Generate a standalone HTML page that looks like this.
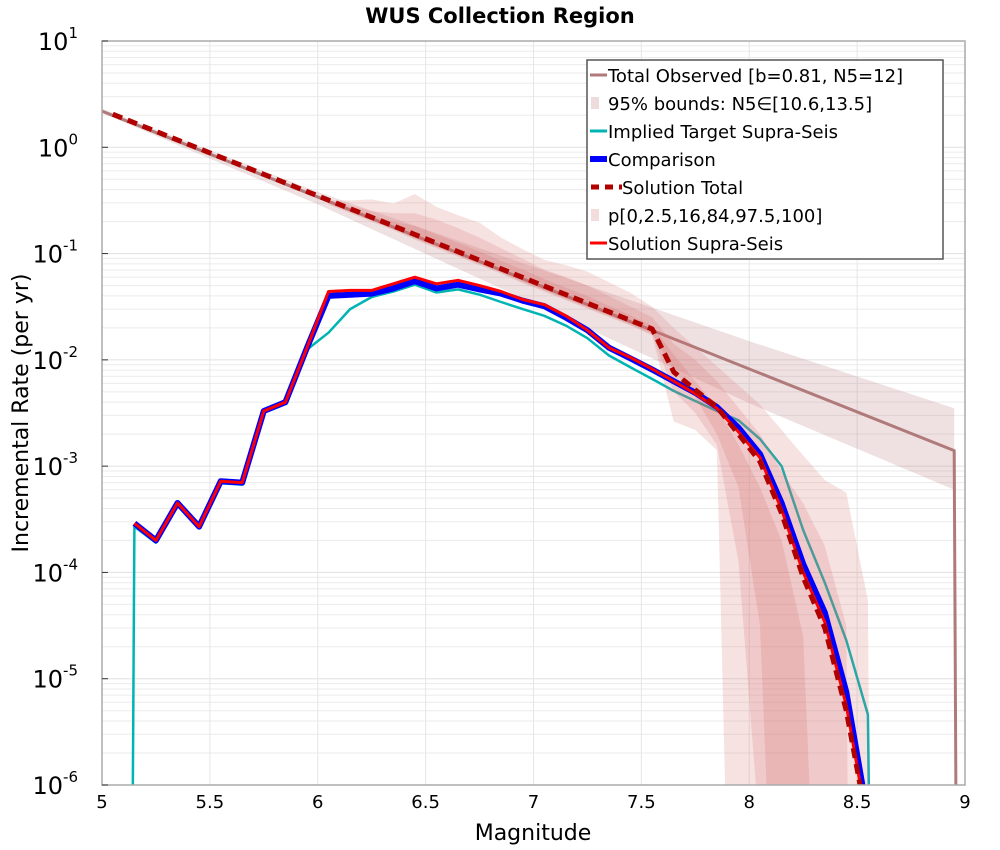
<!DOCTYPE html>
<html><head><meta charset="utf-8"><style>
body{margin:0;background:#fff;}
svg{display:block;font-family:"DejaVu Sans","Liberation Sans",sans-serif;}
</style></head><body>
<svg id="chart" width="1000" height="850" viewBox="0 0 1000 850">
<defs><clipPath id="clip"><rect x="102" y="41" width="863" height="744"/></clipPath></defs>
<rect x="0" y="0" width="1000" height="850" fill="#fff"/>
<text x="500" y="23" text-anchor="middle" font-size="21" font-weight="bold">WUS Collection Region</text>
<g id="grid"></g>
<g id="series" clip-path="url(#clip)"></g>
<rect x="102" y="41" width="863" height="744" fill="none" stroke="#aaa" stroke-width="1.5"/>
<g id="axes"></g>
<text x="533" y="840" text-anchor="middle" font-size="22">Magnitude</text>
<text transform="translate(28,413) rotate(-90)" text-anchor="middle" font-size="22">Incremental Rate (per yr)</text>
<g id="legend"></g>
</svg>
<script>
// ---- data ----
const xTicks = [5, 5.5, 6, 6.5, 7, 7.5, 8, 8.5, 9];
const xTickLabels = ["5","5.5","6","6.5","7","7.5","8","8.5","9"];
const yExps = [1, 0, -1, -2, -3, -4, -5, -6];

const obsMag = [5.0, 8.95, 8.96];
const obsRate = [2.19, 1.4e-3, 1e-7];
const obsBandMag = [5.0, 6.0, 7.0, 8.0, 8.95];
const obsBandUpper = [2.3, 0.38, 0.075, 0.015, 3.5e-3];
const obsBandLower = [2.1, 0.29, 0.034, 3.9e-3, 6.0e-4];

const solMag = [5.15,5.25,5.35,5.45,5.55,5.65,5.75,5.85,5.95,6.05,6.15,6.25,6.35,6.45,6.55,6.65,6.75,6.85,6.95,7.05,7.15,7.25,7.35,7.45,7.55,7.65,7.75,7.85,7.95,8.05,8.15,8.25,8.35,8.45,8.55];
const solRate = [2.9e-4,2.0e-4,4.5e-4,2.7e-4,7.2e-4,7.0e-4,3.3e-3,4.0e-3,1.3e-2,0.044,0.045,0.045,0.052,0.060,0.052,0.056,0.050,0.044,0.037,0.033,0.026,0.019,0.013,0.0105,0.0082,0.0063,0.0048,0.0035,0.0021,0.0012,3.9e-4,1.0e-4,3.4e-5,5.6e-6,4e-7];
const cmpRate = [2.9e-4,2.0e-4,4.5e-4,2.7e-4,7.2e-4,7.0e-4,3.3e-3,4.0e-3,1.3e-2,0.040,0.041,0.042,0.047,0.055,0.047,0.051,0.046,0.042,0.036,0.032,0.025,0.019,0.013,0.0103,0.0081,0.0063,0.0049,0.0036,0.0023,0.0013,4.5e-4,1.2e-4,4.2e-5,7.5e-6,5e-7];
const tgtMag = [5.14,5.15,5.25,5.35,5.45,5.55,5.65,5.75,5.85,5.95,6.05,6.15,6.25,6.35,6.45,6.55,6.65,6.75,6.85,6.95,7.05,7.15,7.25,7.35,7.45,7.55,7.65,7.75,7.85,7.95,8.05,8.15,8.25,8.35,8.45,8.55,8.56];
const tgtRate = [1e-7,2.7e-4,1.9e-4,4.3e-4,2.6e-4,6.9e-4,6.7e-4,3.2e-3,3.9e-3,1.25e-2,0.018,0.030,0.039,0.044,0.051,0.043,0.046,0.041,0.035,0.030,0.026,0.021,0.016,0.011,0.0085,0.0066,0.0051,0.0041,0.0033,0.0027,0.0018,0.0010,2.5e-4,8e-5,2.3e-5,4.6e-6,1e-7];
const totMag = [5.05,7.55,7.65,7.75,7.85,7.95,8.05,8.15,8.25,8.35,8.45,8.55];
const totRate = [2.05,0.0195,0.0077,0.0052,0.0036,0.0020,0.0011,3.6e-4,9e-5,3e-5,5e-6,4e-7];

// percentile edges (log10 of rate)
const pMag = [6.05,6.15,6.25,6.35,6.45,6.55,6.65,6.75,6.85,6.95,7.05,7.15,7.25,7.35,7.45,7.55];
const p100Mag = pMag.concat([7.65,7.75,7.85,7.95,8.05,8.15,8.25,8.35,8.45,8.55,8.56]);
const p100Log = [-0.5,-0.5,-0.49,-0.53,-0.44,-0.56,-0.64,-0.71,-0.85,-0.96,-1.06,-1.11,-1.17,-1.27,-1.37,-1.5,-1.7,-1.88,-2.06,-2.24,-2.42,-2.66,-2.9,-3.13,-3.25,-4.26,-7];
const p975Mag = pMag.concat([7.65,7.75,7.85,7.95,8.05,8.15,8.25,8.35,8.45,8.46]);
const p975Log = [-0.5,-0.55,-0.6,-0.62,-0.62,-0.68,-0.76,-0.85,-0.95,-1.05,-1.15,-1.22,-1.3,-1.4,-1.5,-1.6,-1.85,-2.0,-2.2,-2.45,-2.7,-3.05,-3.35,-3.75,-4.5,-7];
const p84Mag = pMag.concat([7.65,7.75,7.85,7.95,8.05,8.15,8.25,8.3]);
const p84Log = [-0.5,-0.57,-0.64,-0.7,-0.74,-0.82,-0.9,-0.98,-1.07,-1.15,-1.24,-1.32,-1.4,-1.49,-1.58,-1.68,-1.95,-2.2,-2.45,-2.8,-3.2,-3.7,-4.6,-7];
const p16Mag = pMag.concat([7.65,7.75,7.85,7.95,8.05,8.1]);
const p16Log = [-0.52,-0.6,-0.68,-0.76,-0.85,-0.93,-1.01,-1.09,-1.17,-1.26,-1.34,-1.42,-1.5,-1.58,-1.66,-1.75,-2.1,-2.35,-2.7,-3.2,-4.5,-7];
const p25Mag = pMag.concat([7.65,7.75,7.85,7.95,8.05,8.06]);
const p25Log = [-0.53,-0.61,-0.69,-0.77,-0.86,-0.94,-1.02,-1.1,-1.18,-1.27,-1.35,-1.43,-1.51,-1.59,-1.67,-1.76,-2.3,-2.5,-2.8,-3.9,-6.5,-7];
const p0Mag = pMag.concat([7.65,7.75,7.85,7.9]);
const p0Log = [-0.54,-0.62,-0.7,-0.78,-0.87,-0.95,-1.03,-1.11,-1.19,-1.28,-1.36,-1.44,-1.52,-1.6,-1.68,-1.77,-2.58,-2.66,-2.85,-7];

// ---- axes ----
const NS = "http://www.w3.org/2000/svg";
const X0 = 102, X1 = 965, Y0 = 41, Y1 = 785;
function xs(m){ return X0 + (m - 5) / 4 * (X1 - X0); }
function yl(l){ return Y0 + (1 - l) / 7 * (Y1 - Y0); }
function ys(v){ return yl(Math.log10(v)); }
function mk(tag, attrs, parent){ const e = document.createElementNS(NS, tag); for (const k in attrs) e.setAttribute(k, attrs[k]); parent.appendChild(e); return e; }
function pts(ms, vs, f){ return ms.map((m,i)=>xs(m).toFixed(1)+","+f(vs[i]).toFixed(1)).join(" "); }

const grid = document.getElementById("grid");
for (let e = 1; e > -6; e--) {
  for (let k = 2; k <= 9; k++) {
    const y = yl(e - 1 + Math.log10(k));
    const ln = mk("line", {x1:X0, x2:X1, y1:y, y2:y, stroke:"#ebebeb", "stroke-width":1}, grid);
    
    
  }
}
yExps.forEach(e => {
  const y = yl(e);
  const ln = mk("line", {x1:X0, x2:X1, y1:y, y2:y, stroke:"#e0e0e0", "stroke-width":1}, grid);
  
  
});
xTicks.forEach(m => {
  const x = xs(m);
  const ln = mk("line", {x1:x, x2:x, y1:Y0, y2:Y1, stroke:"#e6e6e6", "stroke-width":1}, grid);
  
  
});

const axes = document.getElementById("axes");
xTicks.forEach((m,i) => {
  const t = mk("text", {x:xs(m), y:808, "text-anchor":"middle", "font-size":18}, axes);
  t.textContent = xTickLabels[i];
  
  
});
yExps.forEach(e => {
  const t = mk("text", {x:78, y:yl(e)+9, "text-anchor":"end", "font-size":24}, axes);
  
  
  const b = mk("tspan", {}, t); b.textContent = "10";
  const s = mk("tspan", {dy:-12, "font-size":15}, t); s.textContent = String(e);
  const tk = mk("line", {x1:X0, x2:X0+6, y1:yl(e), y2:yl(e), stroke:"#333"}, axes);
  
  
});

// ---- series ----
const S = document.getElementById("series");
function band(mu, vu, ml, vl, f, fill, name){
  const up = pts(mu, vu, f);
  const lo = ml.map((m,i)=>[xs(m), f(vl[i])]).reverse().map(p=>p[0].toFixed(1)+","+p[1].toFixed(1)).join(" ");
  const p = mk("polygon", {points: up + " " + lo, fill: fill, stroke:"none"}, S);
  
  
}
function line(ms, vs, stroke, w, name, dash){
  const a = {points: pts(ms, vs, ys), fill:"none", stroke:stroke, "stroke-width":w, "stroke-linejoin":"round"};
  if (dash) a["stroke-dasharray"] = dash;
  const p = mk("polyline", a, S);
  
  
}
band(obsBandMag, obsBandUpper, obsBandMag, obsBandLower, ys, "rgba(180,120,125,0.22)", 'observed-95-band');
line(obsMag, obsRate, "#b07a7a", 3, 'total-observed-line');
line(tgtMag, tgtRate, "#00b4b4", 2.5, 'implied-target-line');
band(p100Mag, p100Log, p0Mag, p0Log, yl, "rgba(215,110,110,0.2)", 'percentile-band-0-100');
band(p975Mag, p975Log, p25Mag, p25Log, yl, "rgba(215,110,110,0.2)", 'percentile-band-2.5-97.5');
band(p84Mag, p84Log, p16Mag, p16Log, yl, "rgba(210,100,100,0.2)", 'percentile-band-16-84');
line(solMag, cmpRate, "#0000ff", 6, 'comparison-line');
line(solMag, solRate, "#ff0000", 3, 'solution-supra-seis-line');
line(totMag, totRate, "#b00000", 5, 'solution-total-line', "10,6");

// ---- legend ----
const L = document.getElementById("legend");
const lb = mk("rect", {x:587, y:60, width:356, height:199, fill:"#fff", stroke:"#555", "stroke-width":1.5}, L);


const legItems = [
  ["Total Observed [b=0.81, N5=12]", "line", "#b07a7a", 3, null],
  ["95% bounds: N5\u2208[10.6,13.5]", "box", "#ecdcdc"],
  ["Implied Target Supra-Seis", "line", "#00b4b4", 3, null],
  ["Comparison", "line", "#0000ff", 6, null],
  ["Solution Total", "line", "#b00000", 5, "8,6"],
  ["p[0,2.5,16,84,97.5,100]", "box", "#f3dcdc"],
  ["Solution Supra-Seis", "line", "#ff0000", 3, null]
];
legItems.forEach((it, i) => {
  const y = 75 + i * 28;
  const g = mk("g", {}, L);
  
  
  if (it[1] === "line") {
    const a = {x1:590, x2:607, y1:y, y2:y, stroke:it[2], "stroke-width":it[3]};
    if (it[4]) { a.x1 = 591; a.x2 = 622; a["stroke-dasharray"] = it[4]; }
    mk("line", a, g);
  } else {
    mk("rect", {x:591, y:y-6, width:8, height:12, fill:it[2]}, g);
  }
  const tx = it[4] ? 622 : 608;
  const t = mk("text", {x:tx, y:y+7, "font-size":18}, g);
  t.textContent = it[0];
});
</script>
</body></html>
